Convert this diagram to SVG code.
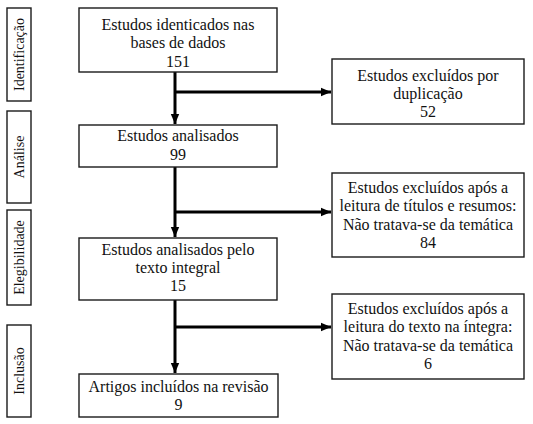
<svg xmlns="http://www.w3.org/2000/svg" width="533" height="424" viewBox="0 0 533 424">
<style>
  .box{fill:#fff;stroke:#1a1a1a;stroke-width:1.4}
  .t{font-family:'Liberation Serif',serif;font-size:16px;fill:#111;text-anchor:middle}
  .lab{font-family:'Liberation Serif',serif;font-size:14px;fill:#111;text-anchor:middle}
  .c{stroke:#000;stroke-width:3;fill:none}
</style>
<defs>
  <marker id="ah" markerUnits="userSpaceOnUse" markerWidth="10" markerHeight="10" viewBox="0 0 10 10" refX="10" refY="5" orient="auto">
    <path d="M0,0.8 L10,5 L0,9.2 Z" fill="#000"/>
  </marker>
</defs>
<rect width="533" height="424" fill="#fff"/>

<g id="phase-identificacao">
  <rect class="box" x="7" y="8" width="24" height="93"/>
  <text class="lab" transform="translate(24,54.5) rotate(-90)">Identificação</text>
</g>
<g id="phase-analise">
  <rect class="box" x="7" y="111" width="24" height="92"/>
  <text class="lab" transform="translate(24,157) rotate(-90)">Análise</text>
</g>
<g id="phase-elegibilidade">
  <rect class="box" x="7" y="210" width="24" height="95"/>
  <text class="lab" transform="translate(24,257.5) rotate(-90)">Elegibilidade</text>
</g>
<g id="phase-inclusao">
  <rect class="box" x="7" y="325" width="24" height="92"/>
  <text class="lab" transform="translate(24,371) rotate(-90)">Inclusão</text>
</g>

<g id="connectors">
  <line class="c" x1="175" y1="72" x2="175" y2="124" marker-end="url(#ah)"/>
  <line class="c" x1="175" y1="92" x2="331" y2="92" marker-end="url(#ah)"/>
  <line class="c" x1="175" y1="167" x2="175" y2="237" marker-end="url(#ah)"/>
  <line class="c" x1="175" y1="212" x2="331" y2="212" marker-end="url(#ah)"/>
  <line class="c" x1="175" y1="300" x2="175" y2="373" marker-end="url(#ah)"/>
  <line class="c" x1="175" y1="327" x2="331" y2="327" marker-end="url(#ah)"/>
</g>

<g id="node-identificados">
  <rect class="box" x="79" y="8" width="198" height="64"/>
  <text class="t" x="178" y="30">Estudos identicados nas</text>
  <text class="t" x="178" y="48.3">bases de dados</text>
  <text class="t" x="178" y="66.6">151</text>
</g>
<g id="node-excluidos-duplicacao">
  <rect class="box" x="332" y="59" width="192" height="65"/>
  <text class="t" x="428" y="80.5">Estudos excluídos por</text>
  <text class="t" x="428" y="98.8">duplicação</text>
  <text class="t" x="428" y="117.1">52</text>
</g>
<g id="node-analisados">
  <rect class="box" x="79" y="125" width="198" height="42"/>
  <text class="t" x="178" y="141">Estudos analisados</text>
  <text class="t" x="178" y="159.5">99</text>
</g>
<g id="node-excluidos-titulos">
  <rect class="box" x="332" y="173" width="192" height="84"/>
  <text class="t" x="428" y="192.5">Estudos excluídos após a</text>
  <text class="t" x="428" y="211">leitura de títulos e resumos:</text>
  <text class="t" x="428" y="229.5">Não tratava-se da temática</text>
  <text class="t" x="428" y="248">84</text>
</g>
<g id="node-texto-integral">
  <rect class="box" x="79" y="238" width="198" height="62"/>
  <text class="t" x="178" y="255">Estudos analisados pelo</text>
  <text class="t" x="178" y="273">texto integral</text>
  <text class="t" x="178" y="291">15</text>
</g>
<g id="node-excluidos-integra">
  <rect class="box" x="332" y="294" width="192" height="85"/>
  <text class="t" x="428" y="313.5">Estudos excluídos após a</text>
  <text class="t" x="428" y="332">leitura do texto na íntegra:</text>
  <text class="t" x="428" y="350.5">Não tratava-se da temática</text>
  <text class="t" x="428" y="369">6</text>
</g>
<g id="node-incluidos">
  <rect class="box" x="79" y="374" width="199" height="43"/>
  <text class="t" x="178.5" y="392">Artigos incluídos na revisão</text>
  <text class="t" x="178.5" y="409.5">9</text>
</g>
</svg>
